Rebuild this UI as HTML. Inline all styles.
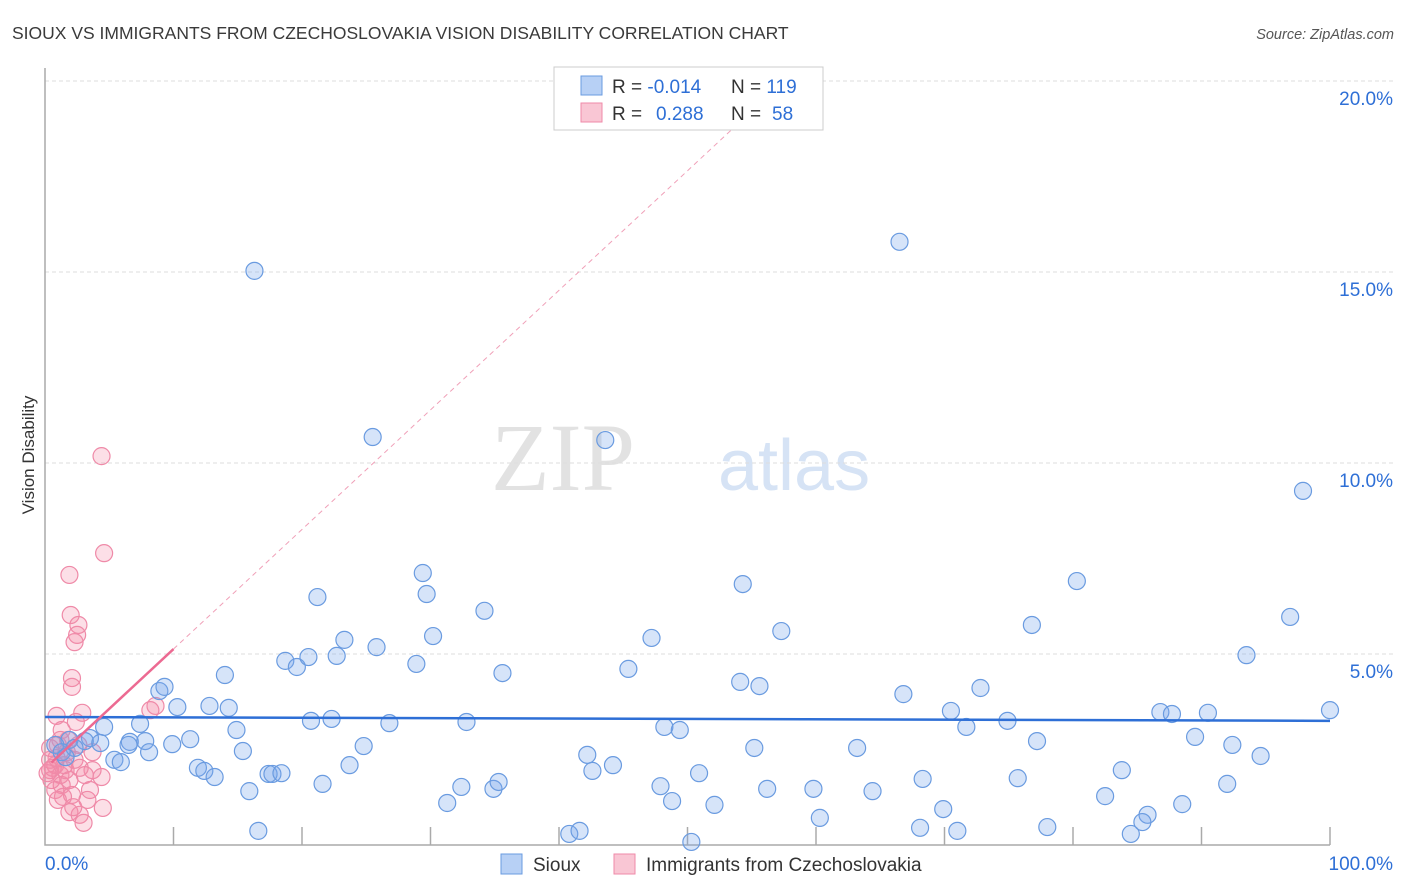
<!DOCTYPE html>
<html><head><meta charset="utf-8">
<style>
body{margin:0;background:#fff;font-family:"Liberation Sans",sans-serif;}
svg{display:block}
</style></head>
<body>
<svg id="chart" width="1406" height="892">
<text x="12" y="39" font-size="17.5" fill="#3a3a3a">SIOUX VS IMMIGRANTS FROM CZECHOSLOVAKIA VISION DISABILITY CORRELATION CHART</text>
<text x="1394" y="39" font-size="14.5" fill="#555" font-style="italic" text-anchor="end">Source: ZipAtlas.com</text>
<text transform="translate(34,455) rotate(-90)" font-size="17" fill="#333" text-anchor="middle">Vision Disability</text>
<g>
<text x="635" y="490" font-size="96" font-family="Liberation Serif,serif" fill="#e2e2e2" text-anchor="end">ZIP</text>
<text x="718" y="490" font-size="72" fill="#d6e3f5">atlas</text>
</g>
<g id="grid"></g>
<g id="pinkDots"></g>
<g id="blueDots"></g>
<g id="lines"></g>
<g>
<rect x="554" y="67" width="269" height="63" fill="#fff" stroke="#ccc"/>
<rect x="581" y="76" width="21" height="19" fill="#b7d0f5" stroke="#6a9be0"/>
<rect x="581" y="103" width="21" height="19" fill="#f9c6d4" stroke="#ef8aa8"/>
<text x="612" y="93" font-size="19" fill="#333">R = <tspan fill="#2e6fd6">-0.014</tspan><tspan x="731">N = </tspan><tspan fill="#2e6fd6">119</tspan></text>
<text x="612" y="120" font-size="19" fill="#333">R = <tspan x="656" fill="#2e6fd6">0.288</tspan><tspan x="731">N = </tspan><tspan x="772" fill="#2e6fd6">58</tspan></text>
</g>
<g>
<rect x="501" y="854" width="21" height="20" fill="#b7d0f5" stroke="#6a9be0"/>
<text x="533" y="871" font-size="19" fill="#333">Sioux</text>
<rect x="614" y="854" width="21" height="20" fill="#f9c6d4" stroke="#ef8aa8"/>
<text x="646" y="871" font-size="19" fill="#333">Immigrants from Czechoslovakia</text>
</g>
</svg>
<script>
const yTicks=[5,10,15,20];
const yTickLabels=["5.0%","10.0%","15.0%","20.0%"];
const xTickLabels=["0.0%","100.0%"];
const blueX=[16.3,66.5,25.5,43.6,97.9,29.4,54.3,80.3,21.2,29.7,34.2,96.9,23.3,30.2,47.2,57.3,76.8,25.8,18.7,19.6,20.5,22.7,28.9,35.6,45.4,93.5,14.0,8.9,9.3,54.1,55.6,72.8,66.8,10.3,12.8,14.3,86.8,87.7,90.5,100.0,70.5,20.7,22.3,26.8,32.8,7.4,4.6,14.9,48.2,49.4,71.7,74.9,3.5,3.1,6.6,7.8,9.9,11.3,4.3,6.5,24.8,15.4,8.1,5.4,5.9,89.5,92.4,77.2,55.2,63.2,94.6,42.2,44.2,23.7,11.9,12.4,13.2,17.4,17.7,18.4,42.6,50.9,68.3,75.7,83.8,21.6,32.4,34.9,35.3,47.9,92.0,15.9,56.2,59.8,64.4,82.5,31.3,48.8,52.1,69.9,88.5,60.3,85.8,85.4,16.6,40.8,41.6,50.3,68.1,71.0,78.0,84.5,1.9,0.8,1.3,2.3,1.6];
const blueY=[15.03,15.79,10.68,10.60,9.27,7.12,6.83,6.91,6.49,6.57,6.13,5.97,5.37,5.47,5.42,5.60,5.76,5.18,4.82,4.66,4.92,4.95,4.74,4.50,4.61,4.97,4.45,4.03,4.14,4.27,4.16,4.11,3.95,3.61,3.64,3.59,3.48,3.43,3.46,3.53,3.51,3.25,3.30,3.19,3.22,3.17,3.09,3.01,3.09,3.01,3.09,3.25,2.80,2.72,2.70,2.72,2.64,2.77,2.67,2.62,2.59,2.46,2.43,2.23,2.17,2.83,2.62,2.72,2.54,2.54,2.33,2.36,2.09,2.09,2.02,1.94,1.78,1.86,1.86,1.88,1.94,1.88,1.73,1.75,1.96,1.60,1.52,1.47,1.65,1.54,1.60,1.41,1.47,1.47,1.41,1.28,1.10,1.15,1.05,0.94,1.07,0.71,0.79,0.60,0.37,0.29,0.37,0.08,0.45,0.37,0.47,0.29,2.75,2.62,2.43,2.54,2.30];
const pinkX=[4.4,4.6,1.9,2.0,2.6,2.5,2.3,2.1,2.1,8.6,8.2,2.9,0.9,2.4,1.3,1.8,1.0,3.7,4.4,4.5,1.9,2.7,3.0,1.3,2.1,3.3,2.3,0.8,0.4,1.2,0.5,1.6,0.4,0.9,1.5,1.9,2.7,3.7,0.8,2.2,3.1,3.5,0.4,1.2,1.7,2.6,0.6,1.4,0.2,1.0];
const pinkY=[10.18,7.64,7.07,6.02,5.76,5.50,5.31,4.37,4.14,3.64,3.53,3.46,3.38,3.22,3.01,2.75,2.62,2.43,1.78,0.97,0.86,0.79,0.58,1.57,1.31,1.18,2.23,2.09,1.96,1.83,1.70,1.96,2.23,2.28,2.09,1.70,2.02,1.96,1.44,0.99,1.83,1.44,2.54,2.75,2.43,2.62,2.02,1.26,1.88,1.18];
const blueTrend=[3.35,3.25];
const pinkTrend=[2.0,0.313];
const X0=45,X1=1330,Y0=845,PX_PER=38.2;
const sx=v=>X0+v*(X1-X0)/100;
const sy=v=>Y0-v*PX_PER;
const NS="http://www.w3.org/2000/svg";
function mk(tag,attrs,parent){const e=document.createElementNS(NS,tag);for(const k in attrs)e.setAttribute(k,attrs[k]);parent.appendChild(e);return e;}
const grid=document.getElementById('grid');
yTicks.forEach((t,i)=>{
 const l=mk('line',{x1:X0,x2:1393,y1:sy(t),y2:sy(t),stroke:'#ddd','stroke-dasharray':'4,3'},grid);
 
 
 const tx=mk('text',{x:1393,y:sy(t)+24,'font-size':19,fill:'#2e6fd6','text-anchor':'end'},grid);
 tx.textContent=yTickLabels[i];
 
 
});
const ax=mk('path',{d:`M${X0} 68 V${Y0} H${X1}`,stroke:'#aaa',fill:'none','stroke-width':1.5},grid);


for(let i=1;i<=10;i++){
 const t=mk('line',{x1:sx(i*10),x2:sx(i*10),y1:Y0,y2:Y0-18,stroke:'#aaa','stroke-width':1.5},grid);
 
 
}
[[0,'start',45],[100,'end',1393]].forEach((a,i)=>{
 const tx=mk('text',{x:a[2],y:870,'font-size':19,fill:'#2e6fd6','text-anchor':a[1]},grid);
 tx.textContent=xTickLabels[i];
 
 
});
const bd=document.getElementById('blueDots');
blueX.forEach((x,i)=>{
 const c=mk('circle',{cx:sx(x),cy:sy(blueY[i]),r:8.5,fill:'rgba(120,165,235,0.3)',stroke:'#6a9be0','stroke-width':1.2},bd);
 
 
});
const pd=document.getElementById('pinkDots');
pinkX.forEach((x,i)=>{
 const c=mk('circle',{cx:sx(x),cy:sy(pinkY[i]),r:8.5,fill:'rgba(245,140,170,0.28)',stroke:'#ef8aa8','stroke-width':1.2},pd);
 
 
});
const ln=document.getElementById('lines');
const bl=mk('line',{x1:sx(0),y1:sy(blueTrend[0]),x2:sx(100),y2:sy(blueTrend[1]),stroke:'#2e6fd6','stroke-width':2.5},ln);


const pf=x=>pinkTrend[0]+pinkTrend[1]*x;
const pdsh=mk('line',{x1:sx(10),y1:sy(pf(10)),x2:sx(54),y2:sy(pf(54)),stroke:'#f0a0b8','stroke-width':1,'stroke-dasharray':'5,4'},ln);


const pl=mk('line',{x1:sx(0.5),y1:sy(pf(0.5)),x2:sx(10),y2:sy(pf(10)),stroke:'#ec6a92','stroke-width':2.5},ln);


</script>
</body></html>
